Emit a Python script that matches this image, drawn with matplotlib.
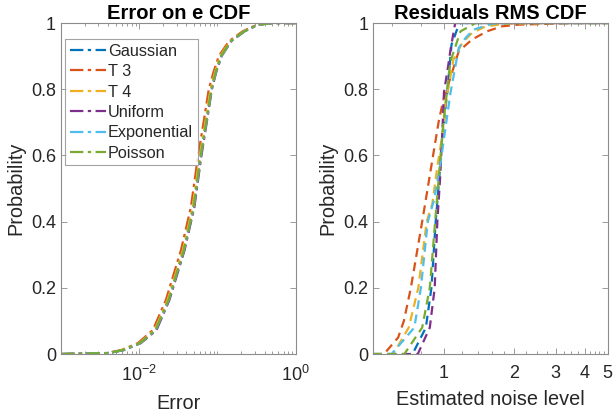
import matplotlib
matplotlib.use('Agg')
import matplotlib.pyplot as plt
from matplotlib.ticker import FixedLocator, NullFormatter

plt.rcParams['font.family'] = ['Liberation Sans', 'DejaVu Sans']
plt.rcParams['mathtext.fontset'] = 'custom'
plt.rcParams['mathtext.rm'] = 'Liberation Sans'
plt.rcParams['mathtext.default'] = 'regular'

# series names and colours
names = ['Gaussian', 'T 3', 'T 4', 'Uniform', 'Exponential', 'Poisson']
colors = ['#0072BD', '#D95319', '#EDB120', '#7E2F8E', '#4DBEEE', '#77AC30']

# ---- left panel: CDF of error on e (x = error, p = probability)
err_p = [0, 0.003, 0.012, 0.033, 0.072, 0.163, 0.314, 0.444, 0.595, 0.70,
         0.80, 0.85, 0.90, 0.945, 0.975, 0.995, 1.0, 1.0]
err_gauss = [0.001, 0.004, 0.0062, 0.0102, 0.016, 0.0236, 0.0370, 0.0495, 0.0605,
             0.0715, 0.0835, 0.0945, 0.111, 0.148, 0.22, 0.33, 0.5, 1.0]
err_t3 = [0.001, 0.0038, 0.0059, 0.0096, 0.0149, 0.0219, 0.0342, 0.0458, 0.0562,
          0.0665, 0.0775, 0.0885, 0.104, 0.140, 0.21, 0.32, 0.5, 1.0]
err_t4 = [0.001, 0.0039, 0.0061, 0.0100, 0.0157, 0.0230, 0.0361, 0.0482, 0.0590,
          0.0700, 0.0815, 0.0925, 0.108, 0.145, 0.217, 0.33, 0.5, 1.0]
err_unif = [0.001, 0.0041, 0.0064, 0.0105, 0.0166, 0.0243, 0.0380, 0.0507, 0.0620,
            0.0730, 0.0850, 0.0960, 0.113, 0.150, 0.222, 0.33, 0.5, 1.0]
err_expo = [0.001, 0.0040, 0.0063, 0.0103, 0.0162, 0.0238, 0.0373, 0.0498, 0.0610,
            0.0720, 0.0840, 0.0950, 0.112, 0.149, 0.221, 0.33, 0.5, 1.0]
err_pois = [0.001, 0.0040, 0.0062, 0.0102, 0.0161, 0.0237, 0.0372, 0.0497, 0.0608,
            0.0718, 0.0838, 0.0948, 0.111, 0.148, 0.22, 0.33, 0.5, 1.0]

# ---- right panel: CDF of residual RMS (estimated noise level)
rms_gauss_x = [0.5, 0.737, 0.84, 0.887, 0.925, 0.955, 0.99, 1.036, 1.08, 1.14, 1.18, 5]
rms_gauss_p = [0, 0, 0.08, 0.2, 0.4, 0.52, 0.667, 0.79, 0.934, 0.98, 1, 1]
rms_t3_x = [0.5, 0.557, 0.64, 0.677, 0.725, 0.81, 0.83, 0.905, 0.955, 0.997,
            1.16, 1.32, 1.53, 1.77, 2.08, 3.55, 5]
rms_t3_p = [0, 0, 0.05, 0.1, 0.2, 0.4, 0.445, 0.607, 0.707, 0.767,
            0.915, 0.95, 0.975, 0.99, 0.995, 1, 1]
rms_t4_x = [0.5, 0.61, 0.71, 0.78, 0.847, 0.896, 0.94, 0.99, 1.02, 1.10,
            1.2, 1.32, 1.51, 1.83, 3.0, 5]
rms_t4_p = [0, 0, 0.08, 0.2, 0.4, 0.456, 0.566, 0.667, 0.758, 0.889,
            0.94, 0.97, 0.99, 0.998, 1, 1]
rms_unif_x = [0.5, 0.776, 0.873, 0.916, 0.94, 0.965, 0.987, 1.003, 1.047, 1.07, 1.12, 5]
rms_unif_p = [0, 0, 0.08, 0.2, 0.4, 0.526, 0.667, 0.79, 0.874, 0.92, 1, 1]
rms_expo_x = [0.5, 0.6, 0.75, 0.80, 0.856, 0.91, 0.97, 1.02, 1.07, 1.16,
              1.24, 1.34, 1.61, 1.96, 5]
rms_expo_p = [0, 0, 0.08, 0.2, 0.4, 0.465, 0.577, 0.687, 0.79, 0.925,
              0.955, 0.98, 0.998, 1, 1]
rms_pois_x = [0.5, 0.68, 0.81, 0.873, 0.92, 0.95, 0.988, 1.02, 1.07, 1.18, 1.37, 5]
rms_pois_p = [0, 0, 0.08, 0.2, 0.4, 0.52, 0.667, 0.758, 0.885, 0.975, 1, 1]

err_series = [err_gauss, err_t3, err_t4, err_unif, err_expo, err_pois]
rms_series = [(rms_gauss_x, rms_gauss_p), (rms_t3_x, rms_t3_p), (rms_t4_x, rms_t4_p),
              (rms_unif_x, rms_unif_p), (rms_expo_x, rms_expo_p), (rms_pois_x, rms_pois_p)]

txt = '#262626'
edge = '#8c8c8c'

fig = plt.figure(figsize=(6.16, 4.19), dpi=100)
ax1 = fig.add_axes([0.099, 0.155, 0.381, 0.790])
ax2 = fig.add_axes([0.6055, 0.155, 0.381, 0.790])

for xs, name, c in zip(err_series, names, colors):
    ax1.plot(xs, err_p, linestyle=(0, (6, 2, 1.5, 2)), color=c, lw=1.6, label=name)

for (xs, ps), name, c in zip(rms_series, names, colors):
    ax2.plot(xs, ps, linestyle=(0, (4, 2.5)), color=c, lw=1.6, label=name)

for ax in (ax1, ax2):
    ax.set_xscale('log')
    ax.set_ylim(0, 1)
    ax.set_yticks([0, 0.2, 0.4, 0.6, 0.8, 1])
    ax.set_yticklabels(['0', '0.2', '0.4', '0.6', '0.8', '1'])
    ax.tick_params(which='both', direction='in', top=True, right=True,
                   colors=edge, labelcolor=txt, labelsize=13, width=0.6)
    ax.tick_params(which='major', length=4)
    ax.tick_params(which='minor', length=2.5)
    ax.tick_params(axis='x', which='major', pad=8)
    for s in ax.spines.values():
        s.set_color(edge)
        s.set_linewidth(0.8)
    ax.set_ylabel('Probability', fontsize=14.3, color=txt, labelpad=4)

# left axis ticks
ax1.set_xlim(1e-3, 1)
ax1.set_xticks([1e-2, 1])
ax1.set_xticklabels(['10$^{-2}$', '10$^{0}$'])
minor_left = [m * 10.0 ** d for d in (-3, -2, -1) for m in range(1, 10)]
ax1.xaxis.set_minor_locator(FixedLocator(minor_left))
ax1.xaxis.set_minor_formatter(NullFormatter())
ax1.set_xlabel('Error', fontsize=14.3, color=txt, labelpad=6)
ax1.set_title('Error on e CDF', fontsize=14.5, fontweight='bold', color='black', pad=3)

# right axis ticks
ax2.set_xlim(0.5, 5)
ax2.set_xticks([1, 2, 3, 4, 5])
ax2.set_xticklabels(['1', '2', '3', '4', '5'])
minor_right = [0.6, 0.8, 1.2, 1.4, 1.6, 1.8, 2.25, 2.5, 2.75, 3.25, 3.5, 3.75,
               4.2, 4.4, 4.6, 4.8]
ax2.xaxis.set_minor_locator(FixedLocator(minor_right))
ax2.xaxis.set_minor_formatter(NullFormatter())
ax2.set_xlabel('Estimated noise level', fontsize=14.3, color=txt, labelpad=6)
ax2.set_title('Residuals RMS CDF', fontsize=14.5, fontweight='bold', color='black', pad=3)

leg = ax1.legend(loc='upper left', bbox_to_anchor=(0.017, 0.952), fontsize=11.7,
                 frameon=True, fancybox=False, edgecolor=edge, handlelength=2.2,
                 handletextpad=0.15, borderpad=0.3, labelspacing=0.33,
                 borderaxespad=0.0)
leg.get_frame().set_linewidth(0.8)
for t in leg.get_texts():
    t.set_color(txt)

fig.savefig('out.png', dpi=100)
